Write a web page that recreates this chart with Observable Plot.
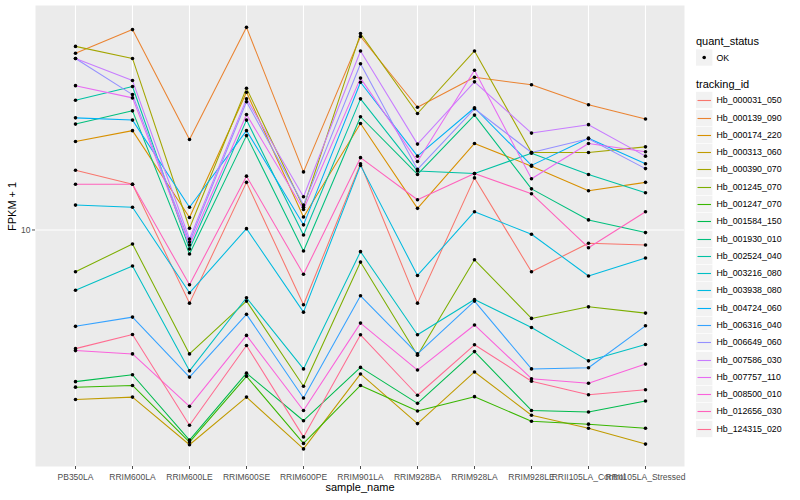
<!DOCTYPE html>
<html>
<head>
<meta charset="utf-8">
<script src="https://cdn.jsdelivr.net/npm/d3@7"></script>
<script src="https://cdn.jsdelivr.net/npm/@observablehq/plot@0.6"></script>
<style>
  html, body { margin: 0; padding: 0; background: white; }
  #wrap { position: relative; width: 800px; height: 500px; font-family: "Liberation Sans", Arial, sans-serif; }
  #legend { position: absolute; left: 0; top: 0; pointer-events: none; }
</style>
</head>
<body>
<div id="wrap"></div>
<script>
const samples = ["PB350LA","RRIM600LA","RRIM600LE","RRIM600SE","RRIM600PE","RRIM901LA","RRIM928BA","RRIM928LA","RRIM928LE","RRII105LA_Control","RRII105LA_Stressed"];
const trackingIds = ["Hb_000031_050","Hb_000139_090","Hb_000174_220","Hb_000313_060","Hb_000390_070","Hb_001245_070","Hb_001247_070","Hb_001584_150","Hb_001930_010","Hb_002524_040","Hb_003216_080","Hb_003938_080","Hb_004724_060","Hb_006316_040","Hb_006649_060","Hb_007586_030","Hb_007757_110","Hb_008500_010","Hb_012656_030","Hb_124315_020"];
const palette = ["#F8766D","#EA8331","#D89000","#C09B00","#A3A500","#7CAE00","#39B600","#00BB4E","#00BF7D","#00C1A3","#00BFC4","#00BAE0","#00B0F6","#35A2FF","#9590FF","#C77CFF","#E76BF3","#FA62DB","#FF62BC","#FF6C91"];
const yTicks = [10];
const quantStatus = ["OK"];

// FPKM + 1 per sample (order of samples)
const v000031 = [15.8, 14.2, 5.71, 14.4, 5.64, 16.6, 5.71, 14.9, 7.26, 9.03, 8.91];
const v000139 = [38.7, 46.4, 20.0, 47.2, 15.6, 44.0, 25.6, 32.2, 30.4, 26.1, 23.4];
const v000174 = [19.7, 21.4, 11.0, 28.7, 11.05, 22.6, 11.8, 19.4, 16.3, 13.5, 14.4];
const v000313 = [2.73, 2.78, 1.93, 2.78, 1.87, 3.32, 2.27, 3.37, 2.42, 2.19, 1.94];
const v000390 = [40.8, 37.2, 10.13, 29.6, 11.9, 45.0, 24.4, 39.4, 18.1, 18.1, 18.9];
const v001245 = [7.26, 8.98, 3.87, 5.80, 3.02, 7.82, 3.83, 7.96, 5.08, 5.55, 5.29];
const v001247 = [3.00, 3.04, 1.97, 3.26, 1.95, 3.04, 2.50, 2.79, 2.31, 2.26, 2.19];
const v001584 = [3.13, 3.30, 2.00, 3.34, 2.32, 3.49, 2.65, 3.94, 2.51, 2.48, 2.70];
const v001930 = [22.5, 24.9, 8.32, 20.6, 8.51, 23.8, 15.3, 24.1, 13.7, 10.8, 9.80];
const v002524 = [27.0, 30.0, 8.64, 23.2, 9.62, 27.3, 15.7, 15.4, 18.0, 15.3, 13.3];
const v003216 = [6.30, 7.59, 3.40, 5.95, 3.45, 8.47, 4.48, 5.87, 4.74, 3.67, 4.16];
const v003938 = [12.1, 11.9, 6.18, 10.1, 5.33, 16.4, 7.06, 11.5, 9.68, 7.03, 8.07];
const v004724 = [23.6, 23.2, 11.9, 21.4, 10.4, 31.0, 17.6, 25.5, 16.4, 20.2, 16.6];
const v006316 = [4.78, 5.13, 3.24, 5.24, 2.76, 6.04, 3.87, 5.80, 3.45, 3.48, 4.80];
const v006649 = [37.2, 28.2, 9.12, 26.7, 12.1, 35.7, 15.9, 25.3, 18.1, 20.1, 16.0];
const v007586 = [37.2, 31.4, 9.33, 27.3, 12.9, 39.4, 19.3, 31.1, 21.0, 22.4, 17.6];
const v007757 = [30.2, 27.5, 8.91, 24.2, 11.7, 32.0, 16.9, 34.0, 14.8, 19.4, 18.2];
const v008500 = [3.97, 3.87, 2.59, 4.46, 2.51, 4.90, 3.42, 4.83, 3.20, 3.09, 3.58];
const v012656 = [14.2, 14.2, 6.57, 15.1, 7.12, 17.4, 12.6, 15.4, 13.2, 8.73, 11.5];
const v124315 = [4.03, 4.49, 2.24, 4.13, 2.05, 4.48, 2.82, 4.15, 3.14, 2.83, 2.94];

const seriesValues = [v000031, v000139, v000174, v000313, v000390, v001245, v001247, v001584, v001930, v002524, v003216, v003938, v004724, v006316, v006649, v007586, v007757, v008500, v012656, v124315];

const rows = trackingIds.flatMap((id, i) =>
  seriesValues[i].map((v, j) => ({id, sample: samples[j], value: v, status: "OK"})));

const font = '"Liberation Sans", Arial, sans-serif';

const chart = Plot.plot({
  width: 800,
  height: 500,
  marginLeft: 35,
  marginRight: 116,
  marginTop: 5,
  marginBottom: 34,
  style: {fontFamily: font, background: "white", overflow: "visible"},
  x: {type: "point", domain: samples, padding: 0.6},
  y: {type: "log", domain: [1.634, 55.8]},
  color: {domain: trackingIds, range: palette},
  marks: [
    Plot.frame({fill: "#EBEBEB", stroke: null}),
    Plot.gridX({stroke: "white", strokeOpacity: 1, strokeWidth: 1.1}),
    Plot.gridY(yTicks, {stroke: "white", strokeOpacity: 1, strokeWidth: 1.1}),
    Plot.line(rows, {x: "sample", y: "value", z: "id", stroke: "id", strokeWidth: 1.05}),
    Plot.dot(rows, {x: "sample", y: "value", r: 1.8, fill: "black", stroke: null}),
    Plot.axisX({tickSize: 3, tickPadding: 4, fontSize: 8.5, color: "#4D4D4D", label: null}),
    Plot.axisY({ticks: yTicks, tickFormat: d => String(d), tickSize: 3, tickPadding: 2, fontSize: 8.5, color: "#4D4D4D", label: null}),
    Plot.text(["sample_name"], {frameAnchor: "bottom", dy: 24, fontSize: 11, fill: "black"}),
    Plot.text(["FPKM + 1"], {frameAnchor: "left", dx: -23, dy: -5, rotate: -90, fontSize: 11, fill: "black"})
  ]
});

const wrap = document.getElementById("wrap");
wrap.appendChild(chart);

// Legend (ggplot style), on the right side
const lg = d3.select(wrap).append("svg")
  .attr("id", "legend").attr("width", 800).attr("height", 500)
  .style("font-family", font);

lg.append("text").attr("x", 696).attr("y", 44.5).attr("font-size", 11).attr("fill", "black").text("quant_status");
quantStatus.forEach((s, i) => {
  const cy = 57.5 + i * 17.28;
  lg.append("rect").attr("x", 696).attr("y", cy - 8.2).attr("width", 16.4).attr("height", 16.4).attr("fill", "#F2F2F2");
  lg.append("circle").attr("cx", 704.2).attr("cy", cy).attr("r", 1.8).attr("fill", "black");
  lg.append("text").attr("x", 716.5).attr("y", cy + 3.1).attr("font-size", 8.8).attr("fill", "black").text(s);
});

lg.append("text").attr("x", 696).attr("y", 88).attr("font-size", 11).attr("fill", "black").text("tracking_id");
trackingIds.forEach((id, i) => {
  const cy = Math.round(100.3 + i * 17.28);
  lg.append("rect").attr("x", 696).attr("y", cy - 8.2).attr("width", 16.4).attr("height", 16.4).attr("fill", "#F2F2F2");
  lg.append("line").attr("x1", 697.5).attr("x2", 711).attr("y1", cy + 0.5).attr("y2", cy + 0.5)
    .attr("stroke", palette[i]).attr("stroke-width", 1.1);
  lg.append("text").attr("x", 716.5).attr("y", cy + 3.1).attr("font-size", 8.8).attr("fill", "black").text(id);
});
</script>
</body>
</html>
